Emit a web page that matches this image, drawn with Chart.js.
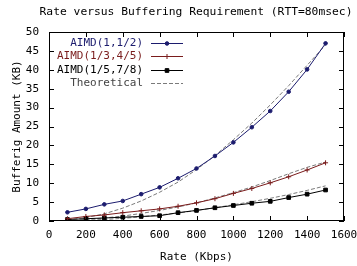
<!DOCTYPE html>
<html lang="en">
<head>
  <meta charset="UTF-8" />
  <title>Rate versus Buffering Requirement</title>
  <script src="https://cdn.jsdelivr.net/npm/chart.js"></script>
  <style>
    html, body { margin: 0; padding: 0; background: #fff; }
    #wrap { width: 357px; height: 266px; }
  </style>
</head>
<body>
  <div id="wrap"><canvas id="bufChart" width="357" height="266"></canvas></div>

  <script>
    // rate in Kbps
    const rates = [100, 200, 300, 400, 500, 600, 700, 800, 900, 1000, 1100, 1200, 1300, 1400, 1500];

    // measured buffering (KB)
    const aimdHalf = [2.3, 3.2, 4.4, 5.3, 7.1, 8.9, 11.3, 13.9, 17.2, 20.8, 24.8, 29.1, 34.2, 40.1, 47.0];
    const aimdFourFifths = [0.6, 1.2, 1.6, 2.2, 2.7, 3.2, 3.9, 4.8, 5.9, 7.3, 8.6, 10.1, 11.7, 13.5, 15.4];
    const aimdSevenEighths = [0.4, 0.6, 0.8, 1.0, 1.2, 1.4, 2.2, 2.8, 3.5, 4.1, 4.7, 5.2, 6.2, 7.1, 8.2];

    // theoretical curves (dashed)
    const theoHalf = [0.3, 0.9, 1.9, 3.4, 5.3, 7.6, 10.3, 13.6, 17.3, 21.5, 25.9, 30.7, 35.8, 41.2, 46.6];
    const theoFourFifths = [0.1, 0.4, 0.8, 1.3, 2.0, 2.8, 3.7, 4.8, 6.1, 7.5, 9.0, 10.7, 12.5, 14.2, 15.6];
    const theoSevenEighths = [0.0, 0.2, 0.4, 0.7, 1.1, 1.6, 2.1, 2.8, 3.5, 4.3, 5.1, 6.0, 7.0, 8.1, 9.3];

    const chartTitle = 'Rate versus Buffering Requirement (RTT=80msec)';
    const seriesLabels = ['AIMD(1,1/2)', 'AIMD(1/3,4/5)', 'AIMD(1/5,7/8)', 'Theoretical'];
    const labelColors = ['#1c1c6e', '#7a1c1c', '#000000', '#444444'];

    const FONT = '"DejaVu Sans Mono", monospace';

    function pts(ys) {
      return rates.map((r, i) => ({ x: r, y: ys[i] }));
    }

    function solid(label, ys, color, style, radius) {
      return {
        label: label,
        data: pts(ys),
        borderColor: color,
        backgroundColor: color,
        borderWidth: 1,
        pointStyle: style,
        pointRadius: radius,
        pointBorderWidth: 1,
        pointBorderColor: color,
        pointBackgroundColor: color,
        tension: 0
      };
    }

    function dashed(ys) {
      return {
        label: 'Theoretical',
        data: pts(ys),
        borderColor: '#7a7a7a',
        borderWidth: 1,
        borderDash: [4, 2],
        pointRadius: 0,
        tension: 0
      };
    }

    // gnuplot style: title, box, inward ticks on all sides, legend in top-left
    const gnuFrame = {
      id: 'gnuFrame',
      afterDraw(chart) {
        const ctx = chart.ctx;
        const a = chart.chartArea;
        const xs = chart.scales.x, ys = chart.scales.y;
        const len = 5;
        ctx.save();

        ctx.font = '11.3px ' + FONT;
        ctx.fillStyle = '#000';
        ctx.textAlign = 'center';
        ctx.textBaseline = 'middle';
        ctx.fillText(chartTitle, 196, 12);

        ctx.strokeStyle = '#000';
        ctx.lineWidth = 1;
        ctx.strokeRect(a.left + 0.5, a.top + 0.5, a.right - a.left - 1, a.bottom - a.top - 1);
        ctx.beginPath();
        xs.ticks.forEach(t => {
          const px = Math.round(xs.getPixelForValue(t.value)) + 0.5;
          ctx.moveTo(px, a.bottom); ctx.lineTo(px, a.bottom - len);
          ctx.moveTo(px, a.top); ctx.lineTo(px, a.top + len);
        });
        ys.ticks.forEach(t => {
          const py = Math.round(ys.getPixelForValue(t.value)) + 0.5;
          ctx.moveTo(a.left, py); ctx.lineTo(a.left + len, py);
          ctx.moveTo(a.right, py); ctx.lineTo(a.right - len, py);
        });
        ctx.stroke();

        // legend
        ctx.font = '11px ' + FONT;
        ctx.textAlign = 'right';
        const textRight = a.left + 94;
        const x0 = a.left + 102, x1 = a.left + 134;
        seriesLabels.forEach((lab, i) => {
          const y = Math.round(a.top + 11 + i * 13.3) + 0.5;
          ctx.fillStyle = labelColors[i];
          ctx.fillText(lab, textRight, y);
          const ds = chart.data.datasets[i];
          ctx.beginPath();
          ctx.strokeStyle = ds.borderColor;
          ctx.setLineDash(ds.borderDash || []);
          ctx.moveTo(x0, y);
          ctx.lineTo(x1, y);
          ctx.stroke();
          ctx.setLineDash([]);
          if (ds.pointRadius > 0) {
            ctx.fillStyle = ds.borderColor;
            Chart.helpers.drawPoint(ctx, {
              pointStyle: ds.pointStyle,
              radius: ds.pointRadius,
              borderWidth: 1
            }, (x0 + x1) / 2, y);
          }
        });
        ctx.restore();
      }
    };

    function renderChart() {
      const ctx = document.getElementById('bufChart').getContext('2d');
      new Chart(ctx, {
        type: 'line',
        data: {
          datasets: [
            solid(seriesLabels[0], aimdHalf, '#1c1c6e', 'circle', 1.8),
            solid(seriesLabels[1], aimdFourFifths, '#7a1c1c', 'cross', 2.5),
            solid(seriesLabels[2], aimdSevenEighths, '#000000', 'rect', 2.6),
            dashed(theoHalf),
            dashed(theoFourFifths),
            dashed(theoSevenEighths)
          ]
        },
        options: {
          responsive: false,
          animation: false,
          layout: { padding: { left: 0, right: 0, top: 32, bottom: 0 } },
          plugins: {
            legend: { display: false },
            tooltip: { enabled: false },
            title: { display: false }
          },
          scales: {
            x: {
              type: 'linear',
              min: 0,
              max: 1600,
              ticks: { stepSize: 200, color: '#000', padding: 8, maxRotation: 0,
                       font: { family: FONT, size: 11 },
                       callback: v => String(v) },
              grid: { display: false, drawTicks: false },
              border: { display: false },
              title: { display: true, text: 'Rate (Kbps)', color: '#000',
                       font: { family: FONT, size: 11 }, padding: { top: 0, bottom: 2 } },
              afterFit(scale) {
                scale.height = 45;
                scale.paddingRight = 13;
                scale.paddingLeft = 0;
              }
            },
            y: {
              min: 0,
              max: 50,
              ticks: { stepSize: 5, color: '#000', padding: 10,
                       font: { family: FONT, size: 11 },
                       callback: v => String(v) },
              grid: { display: false, drawTicks: false },
              border: { display: false },
              title: { display: true, text: 'Bufferig Amount (KB)', color: '#000',
                       font: { family: FONT, size: 11 }, padding: { top: 11, bottom: 0 } },
              afterFit(scale) {
                scale.width = 49;
                scale.paddingTop = 0;
              }
            }
          }
        },
        plugins: [gnuFrame]
      });
    }

    window.onload = renderChart;
  </script>
</body>
</html>
